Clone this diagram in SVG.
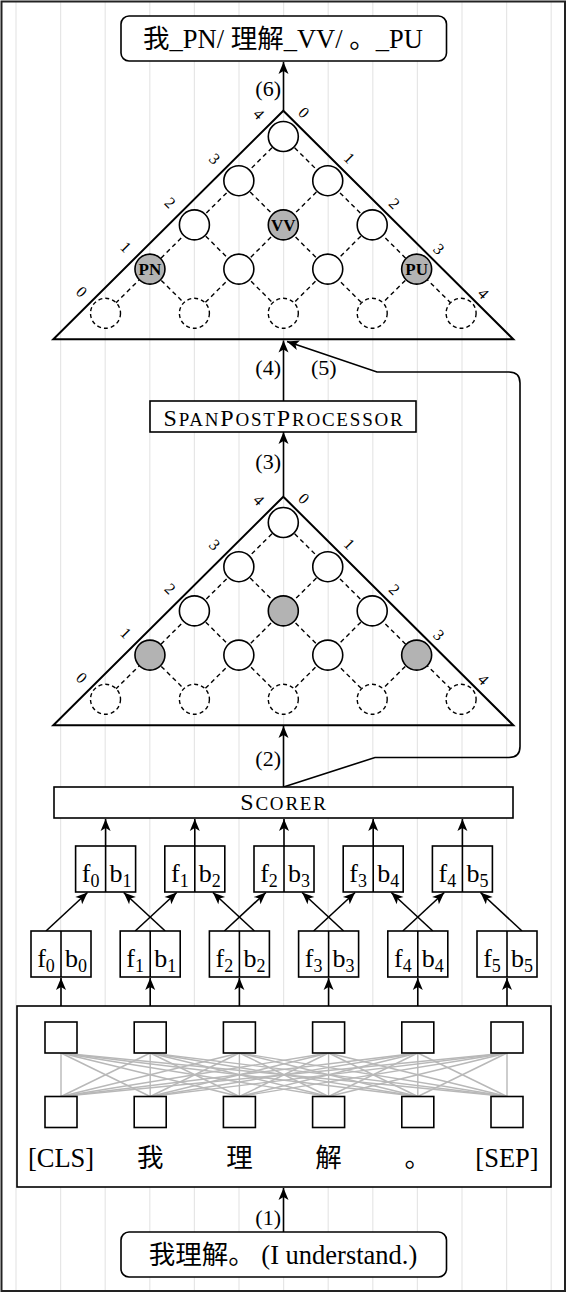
<svg xmlns="http://www.w3.org/2000/svg" width="568" height="1294" viewBox="0 0 568 1294">
<style>
.t{font-family:"Liberation Serif","Noto Sans CJK SC",serif;fill:#000}
.box{fill:#fff;stroke:#000;stroke-width:1.6}
.tri{fill:none;stroke:#000;stroke-width:2;stroke-linejoin:miter}
.c{fill:#fff;stroke:#000;stroke-width:1.6}
.cg{fill:#b3b3b3;stroke:#000;stroke-width:1.6}
.cd{fill:#fff;stroke:#000;stroke-width:1.4;stroke-dasharray:4 3}
.dl{stroke:#000;stroke-width:1.4;stroke-dasharray:4.5 3.5;fill:none}
.ar{stroke:#000;stroke-width:1.6;fill:none;marker-end:url(#ah)}
.gl{stroke:#b8b8b8;stroke-width:1.4}
.bg{stroke:#e6e6e6;stroke-width:1.2}
.lab{font-size:22px}
.num{font-size:16px;text-anchor:middle;dominant-baseline:central}
.tag{font-size:17px;font-weight:bold;text-anchor:middle}
.fb{font-size:26px;text-anchor:middle}
.sc{font-size:24px;text-anchor:middle;letter-spacing:1.8px}
</style>
<defs>
<marker id="ah" viewBox="-13 -6 14 12" refX="0" refY="0" markerWidth="14" markerHeight="12" orient="auto" markerUnits="userSpaceOnUse">
<path d="M0,0 L-12,-5 L-9,0 L-12,5 Z" fill="#000"/>
</marker>
<g id="chart">
<g class="dl">
<line x1="283.3" y1="136.5" x2="461.1" y2="313.3"/>
<line x1="238.85" y1="180.7" x2="372.2" y2="313.3"/>
<line x1="194.4" y1="224.9" x2="283.3" y2="313.3"/>
<line x1="149.95" y1="269.1" x2="194.4" y2="313.3"/>
<line x1="283.3" y1="136.5" x2="105.5" y2="313.3"/>
<line x1="327.75" y1="180.7" x2="194.4" y2="313.3"/>
<line x1="372.2" y1="224.9" x2="283.3" y2="313.3"/>
<line x1="416.65" y1="269.1" x2="372.2" y2="313.3"/>
</g>
<circle class="c" cx="283.3" cy="136.5" r="15"/>
<circle class="c" cx="238.85" cy="180.7" r="15"/>
<circle class="c" cx="327.75" cy="180.7" r="15"/>
<circle class="c" cx="194.4" cy="224.9" r="15"/>
<circle class="cg" cx="283.3" cy="224.9" r="15"/>
<circle class="c" cx="372.2" cy="224.9" r="15"/>
<circle class="cg" cx="149.95" cy="269.1" r="15"/>
<circle class="c" cx="238.85" cy="269.1" r="15"/>
<circle class="c" cx="327.75" cy="269.1" r="15"/>
<circle class="cg" cx="416.65" cy="269.1" r="15"/>
<circle class="cd" cx="105.5" cy="313.3" r="15"/>
<circle class="cd" cx="194.4" cy="313.3" r="15"/>
<circle class="cd" cx="283.3" cy="313.3" r="15"/>
<circle class="cd" cx="372.2" cy="313.3" r="15"/>
<circle class="cd" cx="461.1" cy="313.3" r="15"/>
<polygon class="tri" points="283.3,110.7 53.3,339.3 513.3,339.3"/>
<g class="t num">
<text transform="translate(81.7 291.7) rotate(45)">0</text>
<text transform="translate(126 247) rotate(45)">1</text>
<text transform="translate(170.3 202.8) rotate(45)">2</text>
<text transform="translate(214.6 158.6) rotate(45)">3</text>
<text transform="translate(259 114) rotate(45)">4</text>
<text transform="translate(304 112.5) rotate(45)">0</text>
<text transform="translate(349.5 158) rotate(45)">1</text>
<text transform="translate(394.5 203.5) rotate(45)">2</text>
<text transform="translate(439 249) rotate(45)">3</text>
<text transform="translate(483.5 293.5) rotate(45)">4</text>
</g>
</g>
</defs>
<rect x="0" y="0" width="568" height="1294" fill="#fff"/>
<g id="background">
<g class="bg">
<line x1="16" y1="2" x2="16" y2="1291"/>
<line x1="60.6" y1="2" x2="60.6" y2="1291"/>
<line x1="105.2" y1="2" x2="105.2" y2="1291"/>
<line x1="149.8" y1="2" x2="149.8" y2="1291"/>
<line x1="194.4" y1="2" x2="194.4" y2="1291"/>
<line x1="239" y1="2" x2="239" y2="1291"/>
<line x1="283.6" y1="2" x2="283.6" y2="1291"/>
<line x1="328.2" y1="2" x2="328.2" y2="1291"/>
<line x1="372.8" y1="2" x2="372.8" y2="1291"/>
<line x1="417.4" y1="2" x2="417.4" y2="1291"/>
<line x1="462" y1="2" x2="462" y2="1291"/>
<line x1="506.6" y1="2" x2="506.6" y2="1291"/>
<line x1="551.2" y1="2" x2="551.2" y2="1291"/>
</g>
<rect x="1.5" y="1.5" width="563.5" height="1289.5" fill="none" stroke="#222" stroke-width="2"/>
</g>

<g id="connectors">
<line class="ar" x1="283.5" y1="1232" x2="283.5" y2="1188"/>
<line class="ar" x1="61" y1="1006" x2="61" y2="978"/>
<line class="ar" x1="150.2" y1="1006" x2="150.2" y2="978"/>
<line class="ar" x1="239.4" y1="1006" x2="239.4" y2="978"/>
<line class="ar" x1="328.6" y1="1006" x2="328.6" y2="978"/>
<line class="ar" x1="417.8" y1="1006" x2="417.8" y2="978"/>
<line class="ar" x1="507" y1="1006" x2="507" y2="978"/>
<line class="ar" x1="46" y1="931" x2="87.5" y2="892.5"/>
<line class="ar" x1="135.2" y1="931" x2="176.7" y2="892.5"/>
<line class="ar" x1="224.4" y1="931" x2="265.9" y2="892.5"/>
<line class="ar" x1="313.6" y1="931" x2="355.1" y2="892.5"/>
<line class="ar" x1="402.8" y1="931" x2="444.3" y2="892.5"/>
<line class="ar" x1="165.2" y1="931" x2="123.7" y2="892.5"/>
<line class="ar" x1="254.4" y1="931" x2="212.9" y2="892.5"/>
<line class="ar" x1="343.6" y1="931" x2="302.1" y2="892.5"/>
<line class="ar" x1="432.8" y1="931" x2="391.3" y2="892.5"/>
<line class="ar" x1="522" y1="931" x2="480.5" y2="892.5"/>
<line class="ar" x1="105.6" y1="846" x2="105.6" y2="819"/>
<line class="ar" x1="194.8" y1="846" x2="194.8" y2="819"/>
<line class="ar" x1="284" y1="846" x2="284" y2="819"/>
<line class="ar" x1="373.2" y1="846" x2="373.2" y2="819"/>
<line class="ar" x1="462.4" y1="846" x2="462.4" y2="819"/>
<line class="ar" x1="283.5" y1="787" x2="283.5" y2="726"/>
<path class="ar" d="M283.5,787 L375,757.5 L509,757.5 Q520,757.5 520,746.5 L520,383 Q520,372 509,372 L377,372 L287,341.5"/>
<line class="ar" x1="283.5" y1="496" x2="283.5" y2="432"/>
<line class="ar" x1="283.5" y1="401" x2="283.5" y2="340.5"/>
<line class="ar" x1="283.5" y1="110.7" x2="283.5" y2="62"/>
<g class="t lab">
<text x="281" y="1225" text-anchor="end">(1)</text>
<text x="281" y="766" text-anchor="end">(2)</text>
<text x="281" y="469" text-anchor="end">(3)</text>
<text x="281" y="375" text-anchor="end">(4)</text>
<text x="311" y="375">(5)</text>
<text x="281" y="96" text-anchor="end">(6)</text>
</g>
</g>

<g id="output">
<rect class="box" x="121" y="16" width="325.5" height="45" rx="8"/>
<text class="t" x="283" y="47.5" font-size="26.5" text-anchor="middle">我_PN/ 理解_VV/ 。_PU</text>
</g>

<g id="chart-final">
<use href="#chart"/>
<g class="t tag">
<text x="149.95" y="275">PN</text>
<text x="283.3" y="230.8">VV</text>
<text x="416.65" y="275">PU</text>
</g>
</g>

<g id="span-post-processor">
<rect class="box" x="150" y="401" width="266" height="31"/>
<text class="t sc" x="284" y="426">S<tspan font-size="19">PAN</tspan>P<tspan font-size="19">OST</tspan>P<tspan font-size="19">ROCESSOR</tspan></text>
</g>

<g id="chart-scores">
<use href="#chart" transform="translate(0 386)"/>
</g>

<g id="scorer">
<rect class="box" x="54" y="787" width="459" height="31"/>
<text class="t sc" x="284" y="810">S<tspan font-size="19">CORER</tspan></text>
</g>

<g id="span-reps">
<g id="span-0"><rect class="box" x="75.6" y="846" width="60" height="46"/><line x1="105.6" y1="846" x2="105.6" y2="892" stroke="#000" stroke-width="1.6"/><text class="t fb" x="90.6" y="882">f<tspan dy="5" font-size="18">0</tspan></text><text class="t fb" x="120.6" y="882">b<tspan dy="5" font-size="18">1</tspan></text></g>
<g id="span-1"><rect class="box" x="164.8" y="846" width="60" height="46"/><line x1="194.8" y1="846" x2="194.8" y2="892" stroke="#000" stroke-width="1.6"/><text class="t fb" x="179.8" y="882">f<tspan dy="5" font-size="18">1</tspan></text><text class="t fb" x="209.8" y="882">b<tspan dy="5" font-size="18">2</tspan></text></g>
<g id="span-2"><rect class="box" x="254" y="846" width="60" height="46"/><line x1="284" y1="846" x2="284" y2="892" stroke="#000" stroke-width="1.6"/><text class="t fb" x="269" y="882">f<tspan dy="5" font-size="18">2</tspan></text><text class="t fb" x="299" y="882">b<tspan dy="5" font-size="18">3</tspan></text></g>
<g id="span-3"><rect class="box" x="343.2" y="846" width="60" height="46"/><line x1="373.2" y1="846" x2="373.2" y2="892" stroke="#000" stroke-width="1.6"/><text class="t fb" x="358.2" y="882">f<tspan dy="5" font-size="18">3</tspan></text><text class="t fb" x="388.2" y="882">b<tspan dy="5" font-size="18">4</tspan></text></g>
<g id="span-4"><rect class="box" x="432.4" y="846" width="60" height="46"/><line x1="462.4" y1="846" x2="462.4" y2="892" stroke="#000" stroke-width="1.6"/><text class="t fb" x="447.4" y="882">f<tspan dy="5" font-size="18">4</tspan></text><text class="t fb" x="477.4" y="882">b<tspan dy="5" font-size="18">5</tspan></text></g>
</g>

<g id="lstm">
<g id="fb-0"><rect class="box" x="31" y="931" width="60" height="46"/><line x1="61" y1="931" x2="61" y2="977" stroke="#000" stroke-width="1.6"/><text class="t fb" x="46" y="967">f<tspan dy="5" font-size="18">0</tspan></text><text class="t fb" x="76" y="967">b<tspan dy="5" font-size="18">0</tspan></text></g>
<g id="fb-1"><rect class="box" x="120.2" y="931" width="60" height="46"/><line x1="150.2" y1="931" x2="150.2" y2="977" stroke="#000" stroke-width="1.6"/><text class="t fb" x="135.2" y="967">f<tspan dy="5" font-size="18">1</tspan></text><text class="t fb" x="165.2" y="967">b<tspan dy="5" font-size="18">1</tspan></text></g>
<g id="fb-2"><rect class="box" x="209.4" y="931" width="60" height="46"/><line x1="239.4" y1="931" x2="239.4" y2="977" stroke="#000" stroke-width="1.6"/><text class="t fb" x="224.4" y="967">f<tspan dy="5" font-size="18">2</tspan></text><text class="t fb" x="254.4" y="967">b<tspan dy="5" font-size="18">2</tspan></text></g>
<g id="fb-3"><rect class="box" x="298.6" y="931" width="60" height="46"/><line x1="328.6" y1="931" x2="328.6" y2="977" stroke="#000" stroke-width="1.6"/><text class="t fb" x="313.6" y="967">f<tspan dy="5" font-size="18">3</tspan></text><text class="t fb" x="343.6" y="967">b<tspan dy="5" font-size="18">3</tspan></text></g>
<g id="fb-4"><rect class="box" x="387.8" y="931" width="60" height="46"/><line x1="417.8" y1="931" x2="417.8" y2="977" stroke="#000" stroke-width="1.6"/><text class="t fb" x="402.8" y="967">f<tspan dy="5" font-size="18">4</tspan></text><text class="t fb" x="432.8" y="967">b<tspan dy="5" font-size="18">4</tspan></text></g>
<g id="fb-5"><rect class="box" x="477" y="931" width="60" height="46"/><line x1="507" y1="931" x2="507" y2="977" stroke="#000" stroke-width="1.6"/><text class="t fb" x="492" y="967">f<tspan dy="5" font-size="18">5</tspan></text><text class="t fb" x="522" y="967">b<tspan dy="5" font-size="18">5</tspan></text></g>
</g>

<g id="bert">
<rect class="box" x="17" y="1006" width="534" height="181"/>
<g class="gl">
<line x1="61" y1="1053" x2="61" y2="1096.5"/><line x1="61" y1="1053" x2="150.2" y2="1096.5"/><line x1="61" y1="1053" x2="239.4" y2="1096.5"/><line x1="61" y1="1053" x2="328.6" y2="1096.5"/><line x1="61" y1="1053" x2="417.8" y2="1096.5"/><line x1="61" y1="1053" x2="507" y2="1096.5"/>
<line x1="150.2" y1="1053" x2="61" y2="1096.5"/><line x1="150.2" y1="1053" x2="150.2" y2="1096.5"/><line x1="150.2" y1="1053" x2="239.4" y2="1096.5"/><line x1="150.2" y1="1053" x2="328.6" y2="1096.5"/><line x1="150.2" y1="1053" x2="417.8" y2="1096.5"/><line x1="150.2" y1="1053" x2="507" y2="1096.5"/>
<line x1="239.4" y1="1053" x2="61" y2="1096.5"/><line x1="239.4" y1="1053" x2="150.2" y2="1096.5"/><line x1="239.4" y1="1053" x2="239.4" y2="1096.5"/><line x1="239.4" y1="1053" x2="328.6" y2="1096.5"/><line x1="239.4" y1="1053" x2="417.8" y2="1096.5"/><line x1="239.4" y1="1053" x2="507" y2="1096.5"/>
<line x1="328.6" y1="1053" x2="61" y2="1096.5"/><line x1="328.6" y1="1053" x2="150.2" y2="1096.5"/><line x1="328.6" y1="1053" x2="239.4" y2="1096.5"/><line x1="328.6" y1="1053" x2="328.6" y2="1096.5"/><line x1="328.6" y1="1053" x2="417.8" y2="1096.5"/><line x1="328.6" y1="1053" x2="507" y2="1096.5"/>
<line x1="417.8" y1="1053" x2="61" y2="1096.5"/><line x1="417.8" y1="1053" x2="150.2" y2="1096.5"/><line x1="417.8" y1="1053" x2="239.4" y2="1096.5"/><line x1="417.8" y1="1053" x2="328.6" y2="1096.5"/><line x1="417.8" y1="1053" x2="417.8" y2="1096.5"/><line x1="417.8" y1="1053" x2="507" y2="1096.5"/>
<line x1="507" y1="1053" x2="61" y2="1096.5"/><line x1="507" y1="1053" x2="150.2" y2="1096.5"/><line x1="507" y1="1053" x2="239.4" y2="1096.5"/><line x1="507" y1="1053" x2="328.6" y2="1096.5"/><line x1="507" y1="1053" x2="417.8" y2="1096.5"/><line x1="507" y1="1053" x2="507" y2="1096.5"/>
</g>
<rect class="box" x="45" y="1022" width="32" height="31"/><rect class="box" x="134.2" y="1022" width="32" height="31"/><rect class="box" x="223.4" y="1022" width="32" height="31"/><rect class="box" x="312.6" y="1022" width="32" height="31"/><rect class="box" x="401.8" y="1022" width="32" height="31"/><rect class="box" x="491" y="1022" width="32" height="31"/>
<rect class="box" x="45" y="1096.5" width="32" height="31"/><rect class="box" x="134.2" y="1096.5" width="32" height="31"/><rect class="box" x="223.4" y="1096.5" width="32" height="31"/><rect class="box" x="312.6" y="1096.5" width="32" height="31"/><rect class="box" x="401.8" y="1096.5" width="32" height="31"/><rect class="box" x="491" y="1096.5" width="32" height="31"/>
<g class="t" font-size="26.5" text-anchor="middle">
<text x="61" y="1167">[CLS]</text>
<text x="150.2" y="1167">我</text>
<text x="239.4" y="1167">理</text>
<text x="328.6" y="1167">解</text>
<text x="417.8" y="1167">。</text>
<text x="507" y="1167">[SEP]</text>
</g>
</g>

<g id="input">
<rect class="box" x="121" y="1232" width="325.5" height="45" rx="8"/>
<text class="t" x="283" y="1263.5" font-size="26.5" text-anchor="middle">我理解。 (I understand.)</text>
</g>
</svg>
